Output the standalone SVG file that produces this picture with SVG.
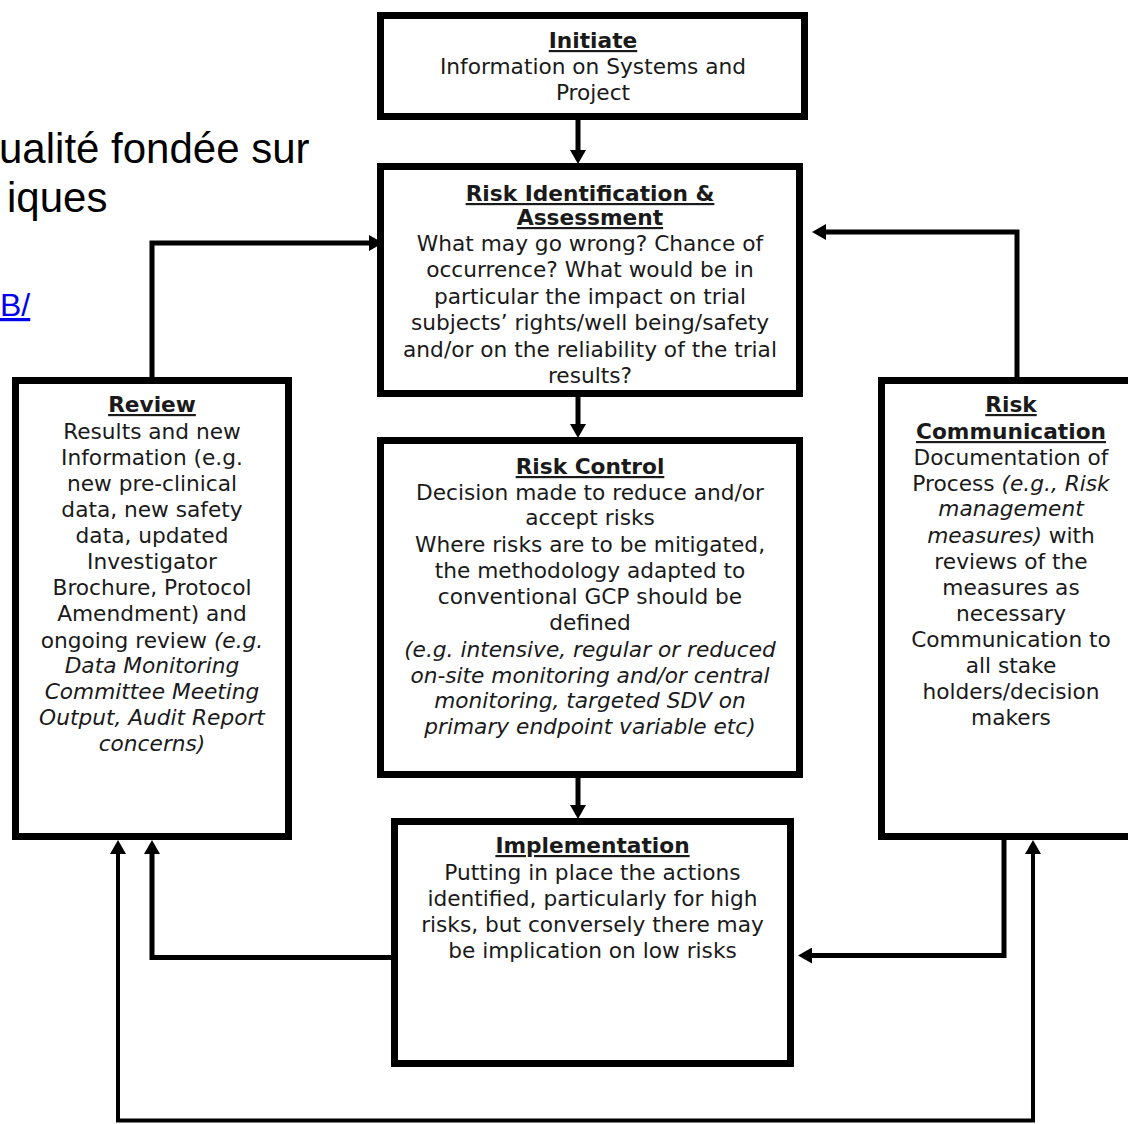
<svg xmlns="http://www.w3.org/2000/svg" width="1128" height="1124" viewBox="0 0 1128 1124">
<style>
  .box { fill: #ffffff; stroke: #000000; stroke-width: 7; }
  .t { font-family: "DejaVu Sans", Verdana, sans-serif; font-size: 21.7px; fill: #1a1a1a; text-anchor: middle; }
  .h { font-weight: bold; text-decoration: underline; }
  .i { font-style: italic; }
  .c { fill: none; stroke: #000000; stroke-width: 5; stroke-linejoin: miter; }
  .c2 { fill: none; stroke: #000000; stroke-width: 4; stroke-linejoin: miter; }
  .bg { font-family: "Liberation Sans", Arial, sans-serif; fill: #000000; }
</style>
<defs>
  <marker id="arr" markerUnits="userSpaceOnUse" markerWidth="14" markerHeight="16" viewBox="0 0 14 16" refX="3" refY="8" orient="auto">
    <path d="M0,0 L14,8 L0,16 z" fill="#000000"/>
  </marker>
</defs>
<rect x="0" y="0" width="1128" height="1124" fill="#ffffff"/>

<g id="background-text">
  <text class="bg" x="-1" y="163" font-size="42">ualité fondée sur</text>
  <text class="bg" x="7" y="212" font-size="42">iques</text>
  <text class="bg" x="0" y="316" font-size="32" style="fill:#0000ee" text-decoration="underline">B/</text>
</g>

<g id="connectors">
  <path class="c" d="M578,120 V153" marker-end="url(#arr)"/>
  <path class="c" d="M578,397 V427" marker-end="url(#arr)"/>
  <path class="c" d="M578,778 V808" marker-end="url(#arr)"/>
  <path class="c" d="M152,377 V243 H372" marker-end="url(#arr)"/>
  <path class="c" d="M1017,377 V232 H823" marker-end="url(#arr)"/>
  <path class="c" d="M402,957.5 H152 V851" marker-end="url(#arr)"/>
  <path class="c" d="M1004,840 V955.5 H809" marker-end="url(#arr)"/>
  <path class="c2" d="M575,1120.5 H118 V851" marker-end="url(#arr)"/>
  <path class="c2" d="M575,1120.5 H1033 V851" marker-end="url(#arr)"/>
</g>

<g id="initiate">
  <rect class="box" x="380.5" y="15.5" width="424" height="101"/>
  <text class="t" x="593" y="48"><tspan class="h">Initiate</tspan></text>
  <text class="t" x="593" y="74">Information on Systems and</text>
  <text class="t" x="593" y="100">Project</text>
</g>

<g id="risk-identification">
  <rect class="box" x="380.5" y="166.5" width="419" height="227"/>
  <text class="t" x="590" y="201"><tspan class="h">Risk Identification &amp;</tspan></text>
  <text class="t" x="590" y="225"><tspan class="h">Assessment</tspan></text>
  <text class="t" x="590" y="251">What may go wrong? Chance of</text>
  <text class="t" x="590" y="277">occurrence? What would be in</text>
  <text class="t" x="590" y="304">particular the impact on trial</text>
  <text class="t" x="590" y="330">subjects’ rights/well being/safety</text>
  <text class="t" x="590" y="357">and/or on the reliability of the trial</text>
  <text class="t" x="590" y="383">results?</text>
</g>

<g id="risk-control">
  <rect class="box" x="380.5" y="440.5" width="419" height="334"/>
  <text class="t" x="590" y="474"><tspan class="h">Risk Control</tspan></text>
  <text class="t" x="590" y="500">Decision made to reduce and/or</text>
  <text class="t" x="590" y="525">accept risks</text>
  <text class="t" x="590" y="552">Where risks are to be mitigated,</text>
  <text class="t" x="590" y="578">the methodology adapted to</text>
  <text class="t" x="590" y="604">conventional GCP should be</text>
  <text class="t" x="590" y="630">defined</text>
  <text class="t i" x="590" y="657">(e.g. intensive, regular or reduced</text>
  <text class="t i" x="590" y="683">on-site monitoring and/or central</text>
  <text class="t i" x="590" y="708">monitoring, targeted SDV on</text>
  <text class="t i" x="590" y="734">primary endpoint variable etc)</text>
</g>

<g id="implementation">
  <rect class="box" x="394.5" y="821.5" width="396" height="242"/>
  <text class="t" x="592.5" y="853"><tspan class="h">Implementation</tspan></text>
  <text class="t" x="592.5" y="880">Putting in place the actions</text>
  <text class="t" x="592.5" y="906">identified, particularly for high</text>
  <text class="t" x="592.5" y="932">risks, but conversely there may</text>
  <text class="t" x="592.5" y="958">be implication on low risks</text>
</g>

<g id="review">
  <rect class="box" x="15.5" y="380.5" width="273" height="456"/>
  <text class="t" x="152" y="412"><tspan class="h">Review</tspan></text>
  <text class="t" x="152" y="439">Results and new</text>
  <text class="t" x="152" y="465">Information (e.g.</text>
  <text class="t" x="152" y="491">new pre-clinical</text>
  <text class="t" x="152" y="517">data, new safety</text>
  <text class="t" x="152" y="543">data, updated</text>
  <text class="t" x="152" y="569">Investigator</text>
  <text class="t" x="152" y="595">Brochure, Protocol</text>
  <text class="t" x="152" y="621">Amendment) and</text>
  <text class="t" x="152" y="648">ongoing review <tspan class="i">(e.g.</tspan></text>
  <text class="t i" x="152" y="673">Data Monitoring</text>
  <text class="t i" x="152" y="699">Committee Meeting</text>
  <text class="t i" x="152" y="725">Output, Audit Report</text>
  <text class="t i" x="152" y="751">concerns)</text>
</g>

<g id="risk-communication">
  <rect class="box" x="881.5" y="380.5" width="259" height="456"/>
  <text class="t" x="1011" y="412"><tspan class="h">Risk</tspan></text>
  <text class="t" x="1011" y="439"><tspan class="h">Communication</tspan></text>
  <text class="t" x="1011" y="465">Documentation of</text>
  <text class="t" x="1011" y="491">Process <tspan class="i">(e.g., Risk</tspan></text>
  <text class="t i" x="1011" y="516">management</text>
  <text class="t" x="1011" y="543"><tspan class="i">measures)</tspan> with</text>
  <text class="t" x="1011" y="569">reviews of the</text>
  <text class="t" x="1011" y="595">measures as</text>
  <text class="t" x="1011" y="621">necessary</text>
  <text class="t" x="1011" y="647">Communication to</text>
  <text class="t" x="1011" y="673">all stake</text>
  <text class="t" x="1011" y="699">holders/decision</text>
  <text class="t" x="1011" y="725">makers</text>
</g>
</svg>
